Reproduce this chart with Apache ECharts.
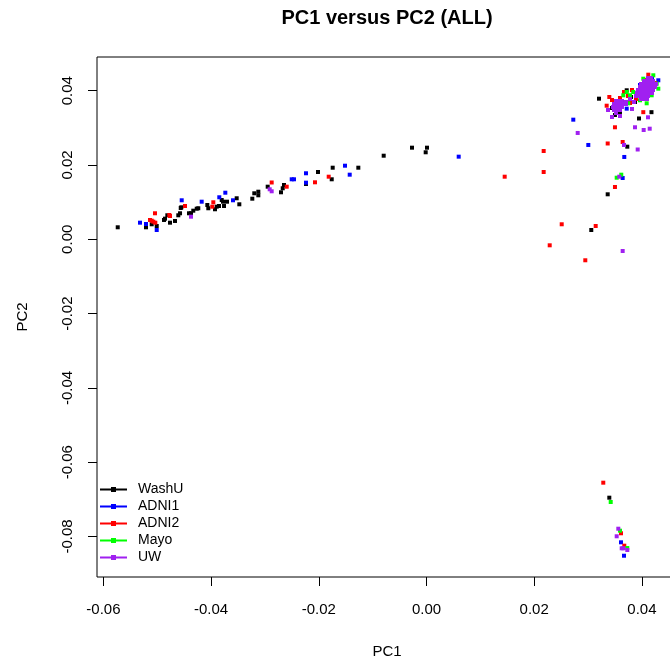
<!DOCTYPE html>
<html><head><meta charset="utf-8">
<script src="https://cdn.jsdelivr.net/npm/echarts@6/dist/echarts.min.js"></script>
<style>html,body{margin:0;padding:0;background:#fff}#c{width:670px;height:665px}</style>
</head><body><div id="c"></div>
<script>
const xTicks = [-0.06, -0.04, -0.02, 0, 0.02, 0.04];
const yTicks = [-0.08, -0.06, -0.04, -0.02, 0, 0.02, 0.04];
const seriesNames = ['WashU', 'ADNI1', 'ADNI2', 'Mayo', 'UW'];
const seriesColors = ['#000000', '#0000FF', '#FF0000', '#00FF00', '#A020F0'];

const washU = [[-0.05734,0.00323],[-0.05209,0.00358],[-0.05209,0.00323],[-0.05103,0.00404],[-0.0501,0.00358],[-0.04875,0.0052],[-0.04856,0.00555],[-0.04813,0.00646],[-0.04763,0.00447],[-0.0467,0.00493],[-0.04609,0.00646],[-0.04577,0.007],[-0.04564,0.00843],[-0.04553,0.00861],[-0.0441,0.007],[-0.04373,0.007],[-0.04331,0.0077],[-0.04267,0.00824],[-0.04238,0.00835],[-0.0407,0.00923],[-0.04052,0.00835],[-0.03928,0.00808],[-0.03896,0.00878],[-0.03853,0.00896],[-0.0376,0.00896],[-0.03803,0.01058],[-0.03779,0.01012],[-0.03705,0.01012],[-0.03525,0.01104],[-0.03476,0.00942],[-0.03235,0.01093],[-0.03198,0.01238],[-0.03123,0.01281],[-0.03123,0.01184],[-0.02949,0.01416],[-0.02702,0.01265],[-0.0267,0.01373],[-0.02646,0.01462],[-0.02238,0.01489],[-0.02015,0.01812],[-0.0176,0.01615],[-0.01742,0.01927],[-0.01266,0.01927],[-0.00795,0.0225],[-0.00269,0.02466],[0.00009,0.02466],[-0.00015,0.02342],[0.03365,0.01211],[0.0306,0.0025],[0.03203,0.03785],[0.03729,0.02493],[0.03946,0.03252],[0.04178,0.03422],[0.03718,0.04011],[0.03872,0.03696],[0.03395,-0.06956],[0.03532,0.0365],[0.03655,0.03696],[0.03798,0.03831],[0.04057,0.03858],[0.03445,0.03535],[0.03593,0.03427],[0.035,0.03346]];

const adni1 = [[-0.0532,0.00447],[-0.05209,0.00412],[-0.0501,0.0025],[-0.04546,0.0105],[-0.04175,0.01012],[-0.03848,0.01131],[-0.03736,0.01254],[-0.03593,0.0105],[-0.02503,0.01615],[-0.02461,0.01615],[-0.02238,0.01777],[-0.02238,0.01524],[-0.01513,0.01981],[-0.01426,0.01739],[0.00598,0.02224],[0.02726,0.0322],[0.03005,0.02539],[0.03673,0.02216],[0.03643,0.0165],[0.04305,0.0428],[0.03718,0.03516],[0.03612,-0.08157],[0.03668,-0.08518],[0.03965,0.04154],[0.04188,0.04342]];

const adni2 = [[-0.05135,0.0052],[-0.05103,0.00501],[-0.05073,0.00474],[-0.05042,0.007],[-0.05036,0.00447],[-0.04776,0.00654],[-0.04763,0.00627],[-0.04485,0.00896],[-0.03959,0.00996],[-0.03978,0.00878],[-0.02875,0.01529],[-0.02596,0.01416],[-0.02071,0.01534],[-0.01816,0.01685],[0.01452,0.01685],[0.02176,0.02377],[0.02176,0.01812],[0.02511,0.00404],[0.02288,-0.00162],[0.03142,0.00358],[0.02949,-0.00565],[0.035,0.01408],[0.03365,0.02579],[0.03643,0.02619],[0.035,0.03015],[0.04026,0.03422],[0.03395,0.03831],[0.03346,0.03596],[0.04119,0.04431],[0.03668,0.03965],[0.03742,0.03858],[0.03816,0.04019],[0.0389,0.03777],[0.03593,0.03804],[0.03779,0.03669],[0.03556,0.03481],[0.03445,0.0375],[0.03965,0.03938],[0.04243,0.04208],[0.04057,0.04288],[0.03283,-0.06552],[0.03612,-0.07914],[0.03673,-0.08248]];

const mayo = [[0.03617,0.01739],[0.03532,0.01658],[0.03421,-0.07072],[0.03593,-0.07844],[0.03729,-0.0831],[0.03718,0.03965],[0.03779,0.03876],[0.0384,0.03965],[0.04089,0.03785],[0.04182,0.03876],[0.04275,0.04189],[0.04305,0.04054],[0.04026,0.04323],[0.04212,0.04415],[0.03965,0.03742],[0.03655,0.03876],[0.04089,0.03661],[0.03747,0.03661]];

const uw = [[-0.04373,0.00608],[-0.02912,0.01346],[-0.02875,0.01292],[0.02808,0.02862],[0.03668,0.02539],[0.03922,0.02417],[0.0358,0.01685],[0.03643,-0.00315],[0.03872,0.03015],[0.04033,0.02942],[0.04145,0.02977],[0.04113,0.03284],[0.03562,-0.07791],[0.03532,-0.07995],[0.03625,-0.08318],[0.03655,-0.08318],[0.03729,-0.08364],
[0.04113,0.04342],[0.04169,0.04342],
[0.04039,0.04261],[0.04095,0.04261],[0.04151,0.04261],[0.04206,0.04261],
[0.03983,0.04181],[0.04039,0.04181],[0.04095,0.04181],[0.04151,0.04181],[0.04206,0.04181],[0.04262,0.04181],
[0.03965,0.041],[0.04021,0.041],[0.04076,0.041],[0.04132,0.041],[0.04188,0.041],[0.04243,0.041],
[0.03928,0.04019],[0.03983,0.04019],[0.04039,0.04019],[0.04095,0.04019],[0.04151,0.04019],[0.04206,0.04019],
[0.03909,0.03938],[0.03965,0.03938],[0.04021,0.03938],[0.04076,0.03938],[0.04132,0.03938],[0.04188,0.03938],
[0.0389,0.03858],[0.03946,0.03858],[0.04002,0.03858],[0.04058,0.03858],[0.04113,0.03858],
[0.03983,0.03777],[0.04039,0.03777],[0.04095,0.03777],
[0.03519,0.03723],[0.03575,0.03723],[0.0363,0.03723],
[0.03482,0.03642],[0.03538,0.03642],[0.03593,0.03642],[0.03649,0.03642],[0.03705,0.03642],
[0.03463,0.03562],[0.03519,0.03562],[0.03575,0.03562],[0.0363,0.03562],
[0.03482,0.03481],[0.03538,0.03481],[0.03593,0.03481],
[0.03519,0.034],
[0.03779,0.03777],[0.03853,0.03696],[0.03705,0.03696],[0.03371,0.03481],[0.03445,0.03292],[0.03593,0.03319],[0.03816,0.03508]];

const seriesData = [washU, adni1, adni2, mayo, uw];

const FONT = 'Liberation Sans';
const fmt = v => (Math.abs(v) < 1e-9 ? 0 : v).toFixed(2);
const chart = echarts.init(document.getElementById('c'), null, { renderer: 'canvas' });
chart.setOption({
  animation: false,
  backgroundColor: '#ffffff',
  title: {
    text: 'PC1 versus PC2 (ALL)', left: 382, top: 3, textAlign: 'center',
    textStyle: { fontFamily: FONT, fontWeight: 'bold', fontSize: 20, color: '#000' }
  },
  grid: { left: 97, top: 57, right: -7, bottom: 88, show: true, borderColor: '#000', borderWidth: 1, outerBoundsMode: 'none', containLabel: false },
  legend: {
    orient: 'vertical', left: 100, top: 482, padding: 0,
    itemWidth: 27, itemHeight: 5, itemGap: 2, selectedMode: false,
    icon: 'path://M0,1.5L27,1.5L27,3.5L0,3.5Z M11,0L16,0L16,5L11,5Z',
    textStyle: { fontFamily: FONT, fontSize: 14, color: '#000', lineHeight: 15, padding: [0, 0, 0, 6] },
    data: seriesNames
  },
  xAxis: {
    type: 'value', min: -0.06119, max: 0.04652,
    name: 'PC1', nameLocation: 'middle', nameGap: 67,
    nameTextStyle: { fontFamily: FONT, fontSize: 15, color: '#000' },
    axisLine: { show: false, onZero: false }, splitLine: { show: false },
    axisTick: { show: true, length: 9, customValues: xTicks, lineStyle: { color: '#000', width: 1 } },
    axisLabel: { customValues: xTicks, formatter: fmt, margin: 25, fontFamily: FONT, fontSize: 15, color: '#000' }
  },
  yAxis: {
    type: 'value', min: -0.09091, max: 0.04907,
    name: 'PC2', nameLocation: 'middle', nameGap: 67,
    nameTextStyle: { fontFamily: FONT, fontSize: 15, color: '#000' },
    axisLine: { show: false, onZero: false }, splitLine: { show: false },
    axisTick: { show: true, length: 9, customValues: yTicks, lineStyle: { color: '#000', width: 1 } },
    axisLabel: { customValues: yTicks, formatter: fmt, rotate: 90, margin: 22, fontFamily: FONT, fontSize: 15, color: '#000' }
  },
  series: seriesNames.map((n, i) => ({
    name: n, type: 'scatter', symbol: 'rect', symbolSize: 4, silent: true,
    itemStyle: { color: seriesColors[i], opacity: 1 },
    data: seriesData[i]
  }))
});
</script></body></html>
